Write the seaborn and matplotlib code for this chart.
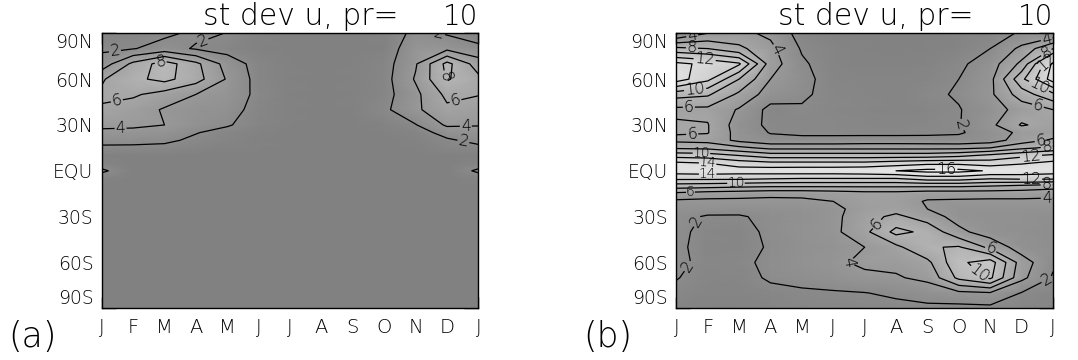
import numpy as np
import matplotlib
matplotlib.use("Agg")
import matplotlib.pyplot as plt
import seaborn as sns

# ---------------- data ----------------
month_pos = list(range(13))
month_labels = ["J", "F", "M", "A", "M", "J", "J", "A", "S", "O", "N", "D", "J"]
lats = [90, 80, 70, 60, 50, 40, 30, 25, 20, 15, 10, 5, 0,
        -5, -10, -15, -20, -25, -30, -40, -50, -60, -70, -80, -90]
lat_ticks = [-90, -60, -30, 0, 30, 60, 90]
lat_labels = ["90S", "60S", "30S", "EQU", "30N", "60N", "90N"]
contour_levels = [2, 4, 6, 8, 10, 12, 14, 16]

# panel (a): st dev u, rows north -> south, columns J..J
sd_a = [
    [0.8, 1.0, 1.6, 2.4, 1.95, 0.6, 0.5, 0.5, 0.5, 0.6, 2.6, 1.8, 0.8],
    [1.7, 1.9, 2.8, 1.8, 1.2, 0.7, 0.5, 0.5, 0.5, 0.7, 3.5, 3.5, 2.6],
    [2.8, 6.5, 9.0, 6.5, 3.2, 1.2, 0.6, 0.5, 0.6, 1.2, 3.8, 8.6, 5.0],
    [5.8, 7.5, 8.6, 6.8, 3.8, 1.3, 0.6, 0.5, 0.6, 1.3, 4.2, 8.2, 6.5],
    [6.3, 6.3, 5.2, 4.0, 3.3, 1.5, 0.6, 0.5, 0.6, 1.3, 3.5, 6.5, 6.1],
    [5.8, 5.0, 3.8, 3.2, 2.9, 1.2, 0.6, 0.5, 0.6, 1.6, 3.6, 5.6, 5.0],
    [4.4, 4.4, 4.0, 3.0, 2.2, 1.0, 0.6, 0.5, 0.5, 0.8, 1.9, 4.3, 4.1],
    [3.6, 3.4, 3.2, 2.1, 1.3, 0.8, 0.5, 0.5, 0.5, 0.6, 1.0, 2.8, 3.3],
    [2.7, 2.6, 2.4, 1.6, 1.0, 0.7, 0.5, 0.5, 0.5, 0.5, 0.8, 1.7, 2.6],
    [1.6, 1.6, 1.5, 1.0, 0.7, 0.6, 0.5, 0.5, 0.5, 0.5, 0.6, 1.2, 1.5],
    [0.6, 0.5, 0.5, 0.5, 0.5, 0.5, 0.5, 0.5, 0.5, 0.5, 0.5, 0.5, 0.6],
    [0.9, 0.5, 0.5, 0.5, 0.5, 0.5, 0.5, 0.5, 0.5, 0.5, 0.5, 0.5, 0.9],
    [2.4, 0.5, 0.5, 0.5, 0.5, 0.5, 0.5, 0.5, 0.5, 0.5, 0.5, 0.5, 2.4],
    [0.9, 0.5, 0.5, 0.5, 0.5, 0.5, 0.5, 0.5, 0.5, 0.5, 0.5, 0.5, 0.9],
    [0.6, 0.5, 0.5, 0.5, 0.5, 0.5, 0.5, 0.5, 0.5, 0.5, 0.5, 0.5, 0.6],
    [0.5, 0.5, 0.5, 0.5, 0.5, 0.5, 0.5, 0.5, 0.5, 0.5, 0.5, 0.5, 0.5],
    [0.5, 0.5, 0.5, 0.5, 0.5, 0.5, 0.5, 0.5, 0.5, 0.5, 0.5, 0.5, 0.5],
    [0.5, 0.5, 0.5, 0.5, 0.5, 0.5, 0.5, 0.5, 0.5, 0.5, 0.5, 0.5, 0.5],
    [0.5, 0.5, 0.5, 0.5, 0.5, 0.5, 0.5, 0.5, 0.5, 0.5, 0.5, 0.5, 0.5],
    [0.5, 0.5, 0.5, 0.5, 0.5, 0.5, 0.5, 0.5, 0.5, 0.5, 0.5, 0.5, 0.5],
    [0.5, 0.5, 0.5, 0.5, 0.5, 0.5, 0.5, 0.5, 0.5, 0.5, 0.5, 0.5, 0.5],
    [0.5, 0.5, 0.5, 0.5, 0.5, 0.5, 0.5, 0.5, 0.5, 0.5, 0.5, 0.5, 0.5],
    [0.5, 0.5, 0.5, 0.5, 0.5, 0.5, 0.5, 0.5, 0.5, 0.5, 0.5, 0.5, 0.5],
    [0.5, 0.5, 0.5, 0.5, 0.5, 0.5, 0.5, 0.5, 0.5, 0.5, 0.5, 0.5, 0.5],
    [0.5, 0.5, 0.5, 0.5, 0.5, 0.5, 0.5, 0.5, 0.5, 0.5, 0.5, 0.5, 0.5],
]

# panel (b)
sd_b = [
    [1.8, 4.0, 4.5, 3.6, 1.2, 0.8, 0.6, 0.6, 0.6, 0.9, 1.3, 2.2, 2.4],
    [8.5, 8.0, 6.5, 4.5, 1.8, 1.0, 0.8, 0.7, 0.8, 1.0, 2.0, 4.5, 8.0],
    [14.5, 13.5, 12.3, 5.0, 2.3, 1.0, 0.8, 0.8, 0.9, 1.6, 3.0, 6.5, 14.5],
    [15.0, 12.5, 8.0, 4.0, 2.6, 1.2, 1.0, 1.0, 1.3, 2.0, 3.4, 9.5, 15.0],
    [8.8, 8.3, 5.6, 3.0, 2.3, 1.4, 1.3, 1.1, 1.6, 2.2, 3.6, 7.0, 9.5],
    [5.5, 5.5, 3.8, 1.4, 1.8, 1.4, 1.2, 1.1, 1.2, 1.9, 3.0, 4.8, 6.0],
    [6.3, 6.1, 3.0, 1.6, 1.5, 1.5, 1.4, 1.3, 1.5, 1.9, 3.5, 6.2, 5.2],
    [6.2, 6.1, 3.2, 1.9, 1.6, 1.6, 1.5, 1.5, 1.6, 1.8, 2.8, 4.5, 5.0],
    [5.5, 5.3, 3.5, 2.6, 2.6, 2.6, 2.8, 2.8, 2.7, 2.6, 3.0, 5.0, 6.3],
    [7.7, 7.5, 6.5, 5.5, 5.5, 5.5, 5.5, 5.5, 5.5, 5.5, 6.0, 7.5, 8.5],
    [11.2, 11.0, 10.0, 9.0, 9.0, 9.0, 9.0, 9.0, 9.0, 9.5, 10.5, 11.5, 12.5],
    [14.4, 14.0, 13.0, 12.5, 12.5, 12.5, 12.5, 13.0, 13.5, 13.5, 13.0, 13.8, 14.5],
    [15.0, 15.2, 15.0, 15.2, 15.3, 15.3, 15.5, 16.0, 16.6, 16.6, 15.8, 15.5, 15.0],
    [12.5, 12.5, 12.5, 12.2, 12.0, 12.0, 12.0, 12.0, 13.0, 13.0, 12.2, 12.5, 12.5],
    [9.0, 8.8, 8.5, 8.3, 8.3, 8.3, 8.3, 8.3, 8.3, 8.3, 8.0, 7.5, 7.0],
    [5.5, 5.0, 4.8, 4.5, 4.5, 4.8, 5.2, 5.2, 4.8, 4.8, 4.8, 4.8, 4.5],
    [3.6, 3.5, 3.5, 3.5, 3.6, 4.0, 5.0, 5.0, 3.8, 3.7, 3.6, 3.6, 3.6],
    [3.0, 2.8, 2.7, 2.8, 3.0, 3.5, 4.8, 5.2, 4.0, 3.2, 3.0, 3.0, 3.0],
    [2.6, 1.8, 1.8, 2.5, 2.8, 3.5, 5.2, 6.5, 5.0, 3.2, 2.8, 2.8, 2.6],
    [2.5, 1.4, 1.3, 2.4, 3.0, 3.5, 5.5, 8.6, 7.5, 4.5, 3.0, 2.7, 2.5],
    [2.4, 1.3, 1.3, 2.2, 2.8, 3.2, 4.0, 5.5, 7.8, 8.2, 5.5, 3.0, 2.4],
    [2.5, 1.4, 1.5, 2.5, 3.0, 3.5, 4.5, 4.5, 5.5, 9.6, 11.0, 5.0, 2.3],
    [2.1, 1.2, 1.2, 2.3, 2.6, 3.0, 3.4, 3.8, 4.5, 8.5, 10.4, 4.5, 1.8],
    [1.5, 1.0, 1.0, 1.4, 1.7, 1.8, 1.95, 2.3, 2.8, 3.5, 3.8, 1.9, 1.4],
    [1.0, 0.8, 0.8, 1.0, 1.2, 1.2, 1.4, 1.5, 1.6, 1.4, 1.5, 1.2, 1.0],
]

title_left = "st dev u, pr="
title_right = "10"
panel_tags = ["(a)", "(b)"]

# approximate spots (month, latitude) where the contour labels sit
label_spots_a = [(0.4, 82), (3.2, 86), (1.9, 69), (0.5, 44), (0.6, 29),
                 (10.6, 87), (11.0, 62), (11.3, 43), (11.6, 29), (11.5, 17)]
label_spots_b = [(0.5, 89), (0.5, 81), (0.9, 72), (0.6, 53), (0.4, 43),
                 (0.5, 27), (3.4, 81),
                 (8.8, 30), (8.6, 0.3),
                 (11.8, 86), (11.8, 77), (11.8, 72), (11.5, 53), (11.5, 41),
                 (11.6, 21), (11.8, 16), (11.3, 9), (11.3, -5), (11.8, -9),
                 (11.8, -17),
                 (0.4, -30), (0.2, -60), (4.9, -63), (6.4, -35), (10.0, -52),
                 (9.7, -66), (11.8, -71)]
label_spots_b_band = [(0.8, 11.5), (1.0, 5.5), (1.0, -2), (1.9, -8),
                      (0.45, -14)]

# ---------------- style ----------------
sns.set_style("white")
plt.rcParams["font.family"] = ["DejaVu Sans"]
plt.rcParams["font.weight"] = "light"
plt.rcParams["text.color"] = "black"
plt.rcParams["xtick.color"] = "black"
plt.rcParams["ytick.color"] = "black"
plt.rcParams["axes.linewidth"] = 1.0

gray_cmap = sns.blend_palette(["#7e7e7e", "#efefef"], n_colors=256, as_cmap=True)

W, H = 1078, 360
fig = plt.figure(figsize=(W / 100, H / 100), dpi=100)
fig.patch.set_facecolor("white")

panels = [
    (sd_a, 101.7, 1053.0 - 676.3, label_spots_a, []),
    (sd_b, 676.3, 1053.0 - 676.3, label_spots_b, label_spots_b_band),
]
ax_top, ax_bot = 33.3, 308.3

X = np.array(month_pos, dtype=float)
Y = np.array(lats, dtype=float)

for i, (data, left_px, width_px, spots, band_spots) in enumerate(panels):
    ax = fig.add_axes([left_px / W, 1 - ax_bot / H, width_px / W,
                       (ax_bot - ax_top) / H])
    Z = np.array(data, dtype=float)
    ax.pcolormesh(X, Y, Z, shading="gouraud", cmap=gray_cmap,
                  vmin=0, vmax=17, rasterized=True)
    cs = ax.contour(X, Y, Z, levels=contour_levels, colors="black",
                    linewidths=0.9)
    ax.set_xlim(0, 12)
    ax.set_ylim(-90, 90)
    ax.clabel(cs, fmt="%d", fontsize=11.5, inline=True, inline_spacing=1,
              manual=spots)
    if band_spots:
        ax.clabel(cs, fmt="%d", fontsize=10, inline=True, inline_spacing=0,
                  manual=band_spots)

    ax.set_xticks(month_pos)
    ax.set_xticklabels(month_labels, fontsize=14)
    ax.set_yticks(lat_ticks)
    ax.set_yticklabels(lat_labels, fontsize=13.5)
    ax.set_yticks([-75, -45, -15, 15, 45, 75], minor=True)
    ax.tick_params(axis="x", which="both", direction="in", top=True,
                   bottom=True, length=8, width=1, color="black", pad=7)
    ax.tick_params(axis="y", which="both", direction="in", left=True,
                   right=True, length=10, width=1, color="black", pad=6)
    for lab in ax.get_yticklabels():
        if lab.get_text() == "90N":
            lab.set_verticalalignment("top")
        elif lab.get_text() == "90S":
            lab.set_verticalalignment("bottom")
    for sp in ax.spines.values():
        sp.set_color("black")
        sp.set_linewidth(1.0)

    right_px = left_px + width_px
    fig.text((right_px - 80) / W, 1 - 25 / H, title_left, ha="right",
             va="baseline", fontsize=21.5)
    fig.text(right_px / W, 1 - 25 / H, title_right, ha="right",
             va="baseline", fontsize=20)
    tag_x = [8, 583][i]
    fig.text(tag_x / W, 1 - 337 / H, panel_tags[i], ha="left",
             va="center", fontsize=25)

fig.savefig("out.png", dpi=100, facecolor="white")
